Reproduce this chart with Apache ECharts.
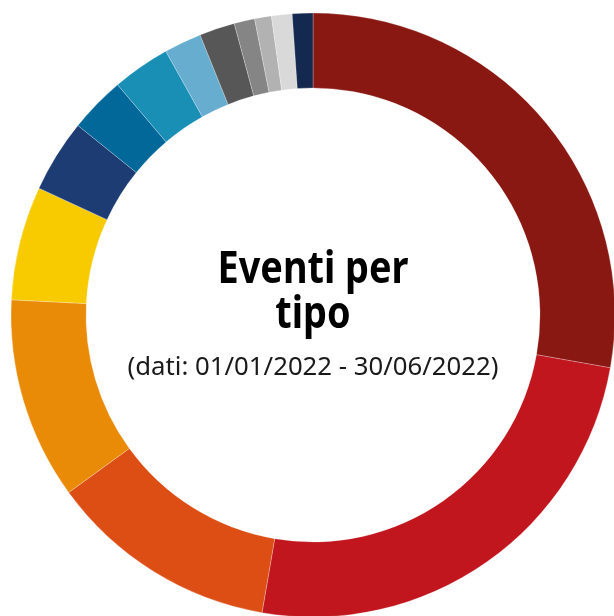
<!DOCTYPE html>
<html>
<head>
<meta charset="utf-8">
<script src="https://cdn.jsdelivr.net/npm/echarts@6/dist/echarts.min.js"></script>
<style>
  html, body { margin: 0; padding: 0; background: #fff; }
  #chart { width: 614px; height: 616px; }
</style>
</head>
<body>
<div id="chart"></div>
<script>
// tipi di evento (nomi non visibili nel grafico)
const categories = ['Tipo 1', 'Tipo 2', 'Tipo 3', 'Tipo 4', 'Tipo 5', 'Tipo 6', 'Tipo 7',
  'Tipo 8', 'Tipo 9', 'Tipo 10', 'Tipo 11', 'Tipo 12', 'Tipo 13', 'Tipo 14'];
// numero di eventi (stimato dagli angoli, su 1000)
const values = [278, 249, 123, 108, 61, 39, 30, 31, 20, 19, 11, 9, 11, 11];
const colors = ['#8a1812', '#c1161e', '#dc4e14', '#ea8b07', '#f8cb00', '#1c3c73', '#02689a',
  '#1a8fb5', '#66add0', '#575757', '#858585', '#b2b2b2', '#d9d9d9', '#13294f'];
const titleLines = ['Eventi per', 'tipo'];
const subtitle = '(dati: 01/01/2022 - 30/06/2022)';

const chart = echarts.init(document.getElementById('chart'));

const option = {
  backgroundColor: '#fff',
  animation: false,
  graphic: [
    {
      type: 'text', x: 313, y: 270, scaleX: 0.86,
      style: {text: titleLines[0], x: 0, y: 0, align: 'center', verticalAlign: 'middle',
        font: 'bold 44px "Noto Sans"', fill: '#000'}
    },
    {
      type: 'text', x: 313, y: 315, scaleX: 0.86,
      style: {text: titleLines[1], x: 0, y: 0, align: 'center', verticalAlign: 'middle',
        font: 'bold 44px "Noto Sans"', fill: '#000'}
    },
    {
      type: 'text', x: 313, y: 368, scaleX: 1.03,
      style: {text: subtitle, x: 0, y: 0, align: 'center', verticalAlign: 'middle',
        font: '25px "Noto Sans"', fill: '#1a1a1a'}
    }
  ],
  series: [{
    type: 'pie',
    center: [313, 315],
    radius: [227, 302],
    startAngle: 90,
    clockwise: true,
    label: {show: false},
    labelLine: {show: false},
    emphasis: {scale: false},
    itemStyle: {borderColor: 'rgba(255,255,255,0.5)', borderWidth: 0.5},
    data: categories.map((name, i) => ({
      name: name,
      value: values[i],
      itemStyle: {color: colors[i]}
    }))
  }]
};

chart.setOption(option);
</script>
</body>
</html>
